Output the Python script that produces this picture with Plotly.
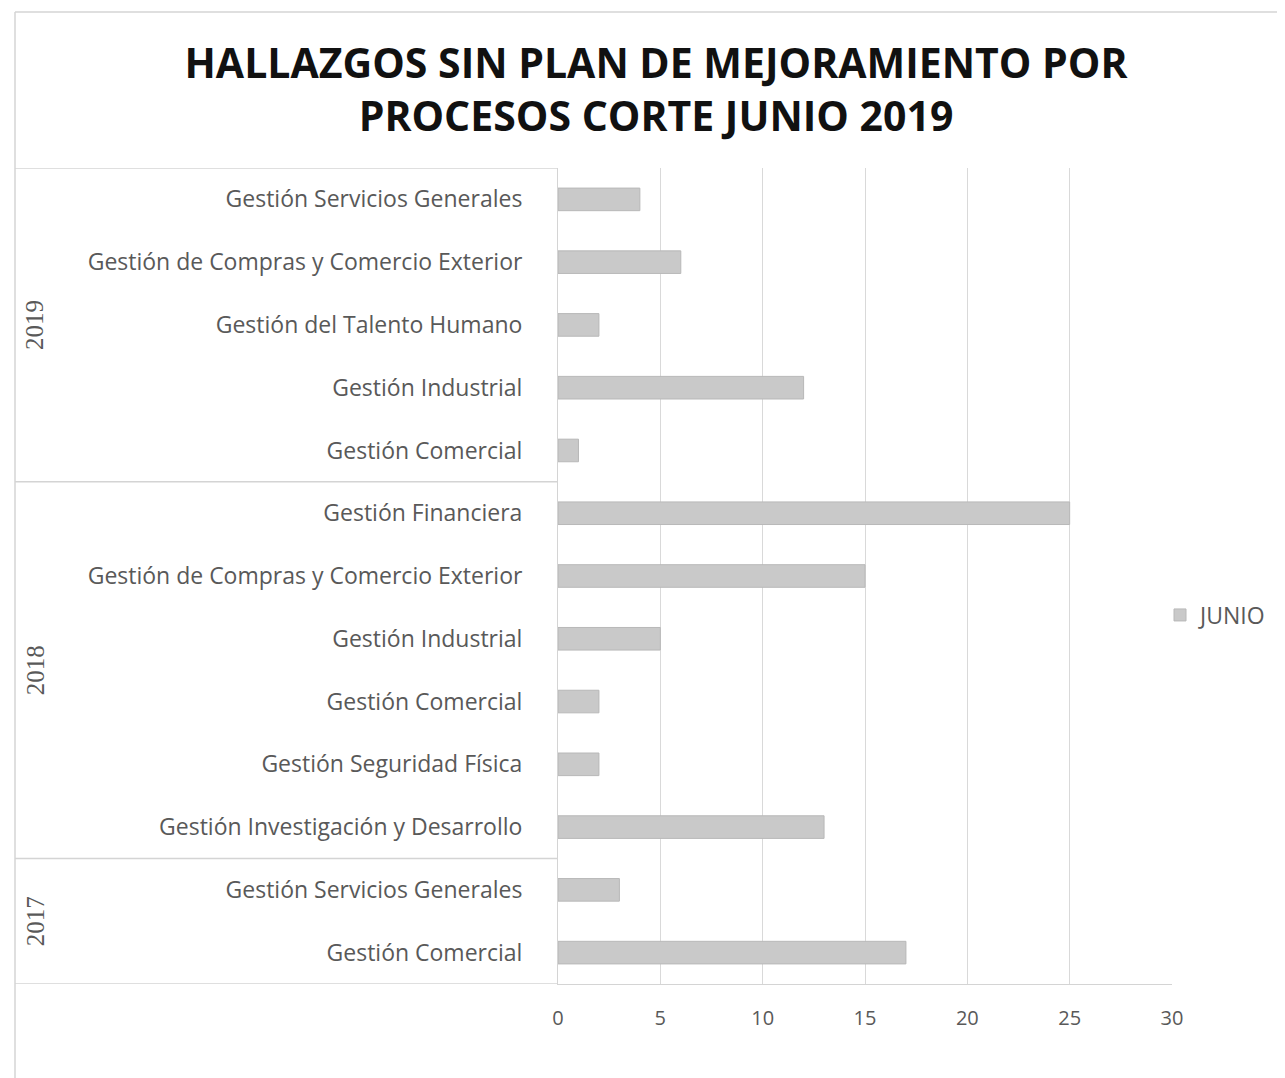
import plotly.graph_objects as go

# Data (top to bottom)
years = ["2019", "2019", "2019", "2019", "2019",
         "2018", "2018", "2018", "2018", "2018", "2018",
         "2017", "2017"]
procesos = ["Gestión Servicios Generales",
            "Gestión de Compras y Comercio Exterior",
            "Gestión del Talento Humano",
            "Gestión Industrial",
            "Gestión Comercial",
            "Gestión Financiera",
            "Gestión de Compras y Comercio Exterior",
            "Gestión Industrial",
            "Gestión Comercial",
            "Gestión Seguridad Física",
            "Gestión Investigación y Desarrollo",
            "Gestión Servicios Generales",
            "Gestión Comercial"]
junio = [4, 6, 2, 12, 1, 25, 15, 5, 2, 2, 13, 3, 17]
year_groups = ["2019", "2018", "2017"]
x_ticks = [0, 5, 10, 15, 20, 25, 30]

pos = list(range(len(procesos)))

W, H = 1285, 1078
L, R, T, B = 550, 121, 160, 102
plot_w = W - L - R
plot_h = H - T - B


def px_x(fx):  # figure px -> paper x
    return (fx - L) / plot_w


def px_y(fy):  # figure px (from top) -> paper y
    return (H - B - fy) / plot_h


fig = go.Figure()
fig.add_trace(go.Bar(
    y=pos, x=junio, orientation="h", name="JUNIO",
    marker=dict(color="#c9c9c9", line=dict(color="#b8b8b8", width=1)),
    width=0.36,
))

FONT = "Open Sans"
fig.update_layout(
    width=W, height=H,
    paper_bgcolor="white", plot_bgcolor="white",
    margin=dict(l=L, r=R, t=T, b=B),
    title=dict(text="HALLAZGOS SIN PLAN DE MEJORAMIENTO POR<br>PROCESOS CORTE JUNIO 2019",
               x=648 / W, xanchor="center", yref="container", y=1 - 70 / H, yanchor="middle",
               font=dict(family=FONT, size=41, color="#111111", weight="bold")),
    showlegend=True,
    legend=dict(x=px_x(1152), xanchor="left", y=px_y(607), yanchor="middle",
                font=dict(family=FONT, size=23, color="#595959"),
                itemwidth=30, bgcolor="rgba(0,0,0,0)"),
    font=dict(family=FONT, color="#595959"),
)

fig.update_xaxes(range=[0, 30], tickvals=x_ticks, showgrid=True, gridcolor="#d9d9d9",
                 gridwidth=1, zeroline=False, showline=True, linecolor="#d4d4d4",
                 tickfont=dict(family=FONT, size=20, color="#595959"),
                 ticks="", ticklabelstandoff=16, fixedrange=True)
fig.update_yaxes(range=[len(procesos) - 0.5, -0.5], tickvals=pos, ticktext=procesos,
                 showgrid=False, zeroline=False, showline=True, linecolor="#d4d4d4",
                 tickfont=dict(family=FONT, size=23, color="#595959"),
                 ticks="", ticklabelstandoff=30, fixedrange=True)

line_c = "#d4d4d4"
x_left = px_x(7)
bounds = [-0.5, 4.5, 10.5, 12.5]
for b in bounds:
    fig.add_shape(type="line", xref="paper", yref="y", x0=x_left, x1=0,
                  y0=b, y1=b, line=dict(color=line_c, width=1.5))
# outer frame: left and top borders
fig.add_shape(type="line", xref="paper", yref="paper",
              x0=x_left, x1=x_left, y0=px_y(H + 5), y1=px_y(4),
              line=dict(color=line_c, width=1.5))
fig.add_shape(type="line", xref="paper", yref="paper",
              x0=x_left, x1=px_x(W + 5), y0=px_y(4), y1=px_y(4),
              line=dict(color=line_c, width=1.5))

# year labels
for g in year_groups:
    idx = [i for i, y in enumerate(years) if y == g]
    mid = (idx[0] + idx[-1]) / 2
    fig.add_annotation(text=g, xref="paper", yref="y", x=px_x(27), y=mid,
                       textangle=-90, showarrow=False, xanchor="center", yanchor="middle",
                       font=dict(family="Liberation Serif", size=25, color="#595959"))

fig.write_html("out.html")
